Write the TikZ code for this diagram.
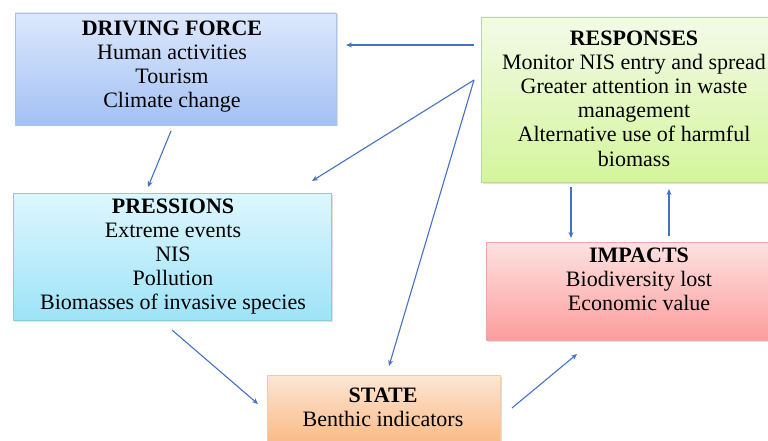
\documentclass[tikz,border=0pt]{standalone}
\usepackage{fontspec}
\setmainfont{Liberation Serif}
\usetikzlibrary{arrows.meta,shadows}
\definecolor{arrowblue}{HTML}{4472C4}
\definecolor{dfTop}{HTML}{DDE8FC}
\definecolor{dfBot}{HTML}{A3C1F4}
\definecolor{dfLine}{HTML}{A9C3EE}
\definecolor{prTop}{HTML}{DEF7FD}
\definecolor{prBot}{HTML}{9EE3F8}
\definecolor{prLine}{HTML}{8FCBE0}
\definecolor{reTop}{HTML}{F3FAE8}
\definecolor{reBot}{HTML}{D4F59B}
\definecolor{reLine}{HTML}{B9DD8E}
\definecolor{imTop}{HTML}{FDE2E2}
\definecolor{imBot}{HTML}{FD9D9D}
\definecolor{imLine}{HTML}{EDA7A7}
\definecolor{stTop}{HTML}{FDE7D6}
\definecolor{stBot}{HTML}{F9A864}
\definecolor{stLine}{HTML}{F2CBA8}
\tikzset{
  box/.style={draw, line width=0.8pt, inner sep=0pt,
    drop shadow={shadow xshift=1.5pt, shadow yshift=-1.5pt, opacity=0.25}},
  txt/.style={anchor=base, inner sep=0pt, font=\fontsize{22}{24}\selectfont},
  ttl/.style={txt, font=\fontsize{22}{24}\selectfont\bfseries},
  arr/.style={draw=arrowblue, line width=1.1pt, -{Stealth[length=6pt,width=5pt]}}
}
\begin{document}
\begin{tikzpicture}[x=1pt,y=-1pt]
\path[use as bounding box, fill=white] (0,0) rectangle (768,441);
\begin{scope}
\clip (0,0) rectangle (768,441);
% boxes
\node[box, draw=dfLine, top color=dfTop, bottom color=dfBot, minimum width=321pt, minimum height=112pt] (df) at (175.5,69) {};
\node[box, draw=prLine, top color=prTop, bottom color=prBot, minimum width=318pt, minimum height=127pt] (pr) at (172,256.5) {};
\node[box, draw=reLine, top color=reTop, bottom color=reBot, minimum width=306pt, minimum height=165pt] (re) at (634,99.5) {};
\node[box, draw=imLine, top color=imTop, bottom color=imBot, minimum width=306pt, minimum height=98pt] (im) at (639,291) {};
\node[box, draw=stLine, top color=stTop, bottom color=stBot, minimum width=233pt, minimum height=95pt] (st) at (383.5,422.5) {};
% texts
\node[ttl] (df0) at (172,36) {DRIVING FORCE};
\node[txt] (df1) at (172,60) {Human activities};
\node[txt] (df2) at (172,84) {Tourism};
\node[txt] (df3) at (172,108) {Climate change};
\node[ttl] (pr0) at (173,213) {PRESSIONS};
\node[txt] (pr1) at (173,237) {Extreme events};
\node[txt] (pr2) at (173,261) {NIS};
\node[txt] (pr3) at (173,285) {Pollution};
\node[txt] (pr4) at (173,309) {Biomasses of invasive species};
\node[ttl] (re0) at (634,46) {RESPONSES};
\node[txt] (re1) at (634,70) {Monitor NIS entry and spread};
\node[txt] (re2) at (634,94) {Greater attention in waste};
\node[txt] (re3) at (634,118) {management};
\node[txt] (re4) at (634,142) {Alternative use of harmful};
\node[txt] (re5) at (634,166) {biomass};
\node[ttl] (im0) at (639,262) {IMPACTS};
\node[txt] (im1) at (639,286) {Biodiversity lost};
\node[txt] (im2) at (639,310) {Economic value};
\node[ttl] (st0) at (383,402) {STATE};
\node[txt] (st1) at (383,426) {Benthic indicators};
% connector end points
\coordinate (reA) at (474,45);
\coordinate (dfA) at (346,45);
\coordinate (reB) at (474,80);
\coordinate (prB) at (312,181);
\coordinate (stB) at (389,366);
\coordinate (dfC) at (171,131);
\coordinate (prC) at (148,187);
\coordinate (prD) at (172,330);
\coordinate (stD) at (258,404);
\coordinate (stE) at (512,408);
\coordinate (imE) at (577,354);
\coordinate (reF) at (571,187);
\coordinate (imF) at (571,238);
\coordinate (imG) at (669,236);
\coordinate (reG) at (669,189);
% connectors
\draw[arr] (reA) -- (dfA);
\draw[arr] (reB) -- (prB);
\draw[arr] (reB) -- (stB);
\draw[arr] (dfC) -- (prC);
\draw[arr] (prD) -- (stD);
\draw[arr] (stE) -- (imE);
\draw[arr] (reF) -- (imF);
\draw[arr] (imG) -- (reG);
\end{scope}
\end{tikzpicture}
\end{document}
